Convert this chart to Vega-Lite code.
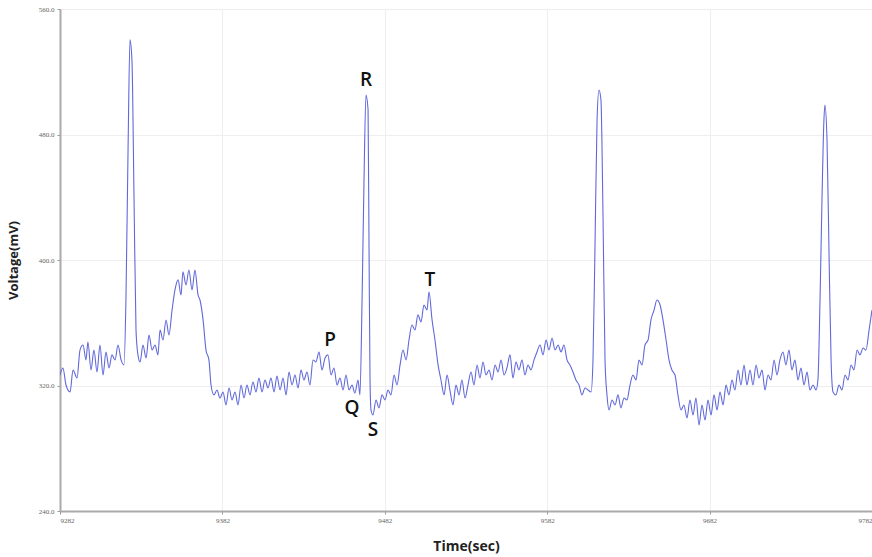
{
  "$schema": "https://vega.github.io/schema/vega-lite/v6.json",
  "width": 812,
  "height": 502,
  "autosize": {"type": "none"},
  "padding": {"left": 60, "top": 9, "right": 0, "bottom": 46},
  "background": "white",
  "config": {"view": {"stroke": null}},
  "datasets": {
    "ecg": [
      {"t":0,"v":326.7},{"t":0.018,"v":331.2},{"t":0.037,"v":320.3},{"t":0.062,"v":315.9},{"t":0.080,"v":329.9},{"t":0.105,"v":324.8},{"t":0.123,"v":342.6},{"t":0.142,"v":345.8},{"t":0.160,"v":336.3},{"t":0.172,"v":347.7},{"t":0.191,"v":329.9},{"t":0.209,"v":342.6},{"t":0.228,"v":328.6},{"t":0.246,"v":345.8},{"t":0.265,"v":326.7},{"t":0.283,"v":341.4},{"t":0.302,"v":331.2},{"t":0.320,"v":339.5},{"t":0.339,"v":336.3},{"t":0.357,"v":345.8},{"t":0.376,"v":336.3},{"t":0.394,"v":333.1},{"t":0.406,"v":374.5},{"t":0.419,"v":470.1},{"t":0.431,"v":540.3},{"t":0.443,"v":527.5},{"t":0.456,"v":438.3},{"t":0.468,"v":355.4},{"t":0.480,"v":339.5},{"t":0.493,"v":335.0},{"t":0.511,"v":345.8},{"t":0.530,"v":337.5},{"t":0.548,"v":352.2},{"t":0.567,"v":342.6},{"t":0.585,"v":345.8},{"t":0.603,"v":339.5},{"t":0.616,"v":355.4},{"t":0.634,"v":349.0},{"t":0.653,"v":361.8},{"t":0.671,"v":352.2},{"t":0.690,"v":368.1},{"t":0.708,"v":380.9},{"t":0.727,"v":387.3},{"t":0.745,"v":377.7},{"t":0.757,"v":392.4},{"t":0.776,"v":384.1},{"t":0.794,"v":393.6},{"t":0.813,"v":380.9},{"t":0.831,"v":393.6},{"t":0.850,"v":377.7},{"t":0.862,"v":374.5},{"t":0.881,"v":361.8},{"t":0.899,"v":342.6},{"t":0.917,"v":336.3},{"t":0.930,"v":320.3},{"t":0.948,"v":314.0},{"t":0.967,"v":317.1},{"t":0.985,"v":312.0},{"t":1.004,"v":315.9},{"t":1.022,"v":307.6},{"t":1.041,"v":318.4},{"t":1.059,"v":310.8},{"t":1.078,"v":315.9},{"t":1.096,"v":307.6},{"t":1.115,"v":320.3},{"t":1.133,"v":312.0},{"t":1.151,"v":320.3},{"t":1.170,"v":314.0},{"t":1.188,"v":322.2},{"t":1.207,"v":315.9},{"t":1.225,"v":324.8},{"t":1.244,"v":315.9},{"t":1.262,"v":323.5},{"t":1.281,"v":318.4},{"t":1.299,"v":324.8},{"t":1.318,"v":315.9},{"t":1.336,"v":326.1},{"t":1.355,"v":317.1},{"t":1.373,"v":324.8},{"t":1.392,"v":314.0},{"t":1.410,"v":328.6},{"t":1.429,"v":320.3},{"t":1.447,"v":326.7},{"t":1.466,"v":318.4},{"t":1.484,"v":329.9},{"t":1.502,"v":323.5},{"t":1.521,"v":328.6},{"t":1.539,"v":320.3},{"t":1.558,"v":336.3},{"t":1.576,"v":335.0},{"t":1.595,"v":341.4},{"t":1.613,"v":329.9},{"t":1.632,"v":337.5},{"t":1.650,"v":339.5},{"t":1.669,"v":326.7},{"t":1.687,"v":331.2},{"t":1.706,"v":320.3},{"t":1.724,"v":324.8},{"t":1.743,"v":317.1},{"t":1.761,"v":326.7},{"t":1.780,"v":317.1},{"t":1.798,"v":320.3},{"t":1.816,"v":315.2},{"t":1.835,"v":323.5},{"t":1.847,"v":314.0},{"t":1.860,"v":374.5},{"t":1.872,"v":451.0},{"t":1.884,"v":505.2},{"t":1.897,"v":495.6},{"t":1.903,"v":406.4},{"t":1.909,"v":323.5},{"t":1.915,"v":304.4},{"t":1.927,"v":301.2},{"t":1.946,"v":310.8},{"t":1.964,"v":305.7},{"t":1.983,"v":314.0},{"t":2.001,"v":310.8},{"t":2.020,"v":317.1},{"t":2.038,"v":314.0},{"t":2.057,"v":326.7},{"t":2.075,"v":320.3},{"t":2.094,"v":333.1},{"t":2.112,"v":342.6},{"t":2.131,"v":336.3},{"t":2.149,"v":349.0},{"t":2.167,"v":358.6},{"t":2.186,"v":355.4},{"t":2.204,"v":365.0},{"t":2.223,"v":360.5},{"t":2.241,"v":371.3},{"t":2.260,"v":368.1},{"t":2.272,"v":379.6},{"t":2.291,"v":361.8},{"t":2.309,"v":349.0},{"t":2.328,"v":333.1},{"t":2.346,"v":323.5},{"t":2.365,"v":314.0},{"t":2.383,"v":326.7},{"t":2.401,"v":317.1},{"t":2.420,"v":307.6},{"t":2.438,"v":320.3},{"t":2.457,"v":314.0},{"t":2.475,"v":323.5},{"t":2.494,"v":312.0},{"t":2.512,"v":320.3},{"t":2.531,"v":328.6},{"t":2.549,"v":320.3},{"t":2.568,"v":333.1},{"t":2.586,"v":324.8},{"t":2.605,"v":335.0},{"t":2.623,"v":326.7},{"t":2.642,"v":329.9},{"t":2.660,"v":323.5},{"t":2.679,"v":333.1},{"t":2.697,"v":328.6},{"t":2.716,"v":336.3},{"t":2.734,"v":326.7},{"t":2.752,"v":331.2},{"t":2.771,"v":339.5},{"t":2.789,"v":324.8},{"t":2.808,"v":335.0},{"t":2.826,"v":329.9},{"t":2.845,"v":336.3},{"t":2.863,"v":326.7},{"t":2.882,"v":333.1},{"t":2.900,"v":329.9},{"t":2.919,"v":336.3},{"t":2.937,"v":341.4},{"t":2.956,"v":345.8},{"t":2.974,"v":339.5},{"t":2.993,"v":349.0},{"t":3.011,"v":342.6},{"t":3.030,"v":350.3},{"t":3.048,"v":342.6},{"t":3.067,"v":345.8},{"t":3.085,"v":341.4},{"t":3.103,"v":345.8},{"t":3.122,"v":336.3},{"t":3.140,"v":333.1},{"t":3.159,"v":328.6},{"t":3.177,"v":323.5},{"t":3.196,"v":320.3},{"t":3.214,"v":314.0},{"t":3.233,"v":318.4},{"t":3.251,"v":317.1},{"t":3.270,"v":315.9},{"t":3.282,"v":336.3},{"t":3.294,"v":406.4},{"t":3.307,"v":489.3},{"t":3.319,"v":508.4},{"t":3.331,"v":502.0},{"t":3.344,"v":425.5},{"t":3.356,"v":336.3},{"t":3.368,"v":314.0},{"t":3.381,"v":304.4},{"t":3.399,"v":310.8},{"t":3.418,"v":307.6},{"t":3.436,"v":314.0},{"t":3.454,"v":305.7},{"t":3.473,"v":312.0},{"t":3.491,"v":310.8},{"t":3.510,"v":320.3},{"t":3.528,"v":326.7},{"t":3.547,"v":323.5},{"t":3.565,"v":336.3},{"t":3.584,"v":333.1},{"t":3.602,"v":345.8},{"t":3.621,"v":349.0},{"t":3.639,"v":361.8},{"t":3.658,"v":368.1},{"t":3.676,"v":374.5},{"t":3.695,"v":371.3},{"t":3.713,"v":361.8},{"t":3.732,"v":349.0},{"t":3.750,"v":336.3},{"t":3.768,"v":329.9},{"t":3.787,"v":326.7},{"t":3.805,"v":314.0},{"t":3.824,"v":304.4},{"t":3.842,"v":307.6},{"t":3.861,"v":299.3},{"t":3.879,"v":310.8},{"t":3.898,"v":301.2},{"t":3.916,"v":312.0},{"t":3.935,"v":294.8},{"t":3.953,"v":307.6},{"t":3.972,"v":298.0},{"t":3.990,"v":310.8},{"t":4.009,"v":301.2},{"t":4.027,"v":314.0},{"t":4.046,"v":304.4},{"t":4.064,"v":315.9},{"t":4.083,"v":307.6},{"t":4.101,"v":320.3},{"t":4.119,"v":314.0},{"t":4.138,"v":323.5},{"t":4.156,"v":317.1},{"t":4.175,"v":329.9},{"t":4.193,"v":320.3},{"t":4.212,"v":333.1},{"t":4.230,"v":320.3},{"t":4.249,"v":329.9},{"t":4.267,"v":320.3},{"t":4.286,"v":333.1},{"t":4.304,"v":324.8},{"t":4.323,"v":329.9},{"t":4.341,"v":317.1},{"t":4.360,"v":326.7},{"t":4.378,"v":323.5},{"t":4.397,"v":336.3},{"t":4.415,"v":326.7},{"t":4.433,"v":336.3},{"t":4.452,"v":341.4},{"t":4.470,"v":333.1},{"t":4.489,"v":342.6},{"t":4.507,"v":329.9},{"t":4.526,"v":336.3},{"t":4.544,"v":323.5},{"t":4.563,"v":331.2},{"t":4.581,"v":320.3},{"t":4.600,"v":328.6},{"t":4.618,"v":317.1},{"t":4.637,"v":320.3},{"t":4.655,"v":317.1},{"t":4.667,"v":323.5},{"t":4.680,"v":374.5},{"t":4.692,"v":438.3},{"t":4.704,"v":489.3},{"t":4.710,"v":498.8},{"t":4.723,"v":476.5},{"t":4.735,"v":406.4},{"t":4.748,"v":336.3},{"t":4.760,"v":315.9},{"t":4.778,"v":314.0},{"t":4.797,"v":320.3},{"t":4.815,"v":317.1},{"t":4.834,"v":326.7},{"t":4.852,"v":323.5},{"t":4.871,"v":333.1},{"t":4.889,"v":329.9},{"t":4.908,"v":342.6},{"t":4.926,"v":339.5},{"t":4.945,"v":343.9},{"t":4.963,"v":342.6},{"t":4.982,"v":355.4},{"t":5.000,"v":368.1}
    ],
    "waves": [
      {"t":1.663,"v":349.0,"label":"P"},
      {"t":1.798,"v":305.7,"label":"Q"},
      {"t":1.884,"v":514.8,"label":"R"},
      {"t":1.927,"v":291.6,"label":"S"},
      {"t":2.278,"v":387.3,"label":"T"}
    ]
  },
  "layer": [
    {
      "data": {"name": "ecg"},
      "mark": {"type": "line", "color": "#6068da", "strokeWidth": 1.1, "interpolate": "monotone", "clip": true},
      "encoding": {
        "x": {
          "field": "t", "type": "quantitative",
          "scale": {"domain": [0, 5], "nice": false, "zero": false},
          "axis": {
            "values": [0, 1, 2, 3, 4, 5],
            "labelExpr": "'9' + (datum.value + 2) + '82'",
            "title": "Time(sec)",
            "titleFont": "Open Sans", "titleFontSize": 14, "titleFontWeight": "bold", "titleColor": "#222",
            "titlePadding": 16,
            "labelFont": "Liberation Serif", "labelFontSize": 7, "labelColor": "#666",
            "labelPadding": 2,
            "domainColor": "#aaaaaa", "domainWidth": 2,
            "tickColor": "#999", "tickSize": 3,
            "grid": true, "gridColor": "#eeeeee", "gridWidth": 1
          }
        },
        "y": {
          "field": "v", "type": "quantitative",
          "scale": {"domain": [240, 560], "nice": false, "zero": false},
          "axis": {
            "values": [240, 320, 400, 480, 560],
            "format": ".1f",
            "title": "Voltage(mV)",
            "titleFont": "Open Sans", "titleFontSize": 13, "titleFontWeight": "bold", "titleColor": "#222",
            "titlePadding": 18,
            "labelFont": "Liberation Serif", "labelFontSize": 7, "labelColor": "#666",
            "labelPadding": 3,
            "domainColor": "#aaaaaa", "domainWidth": 2,
            "tickColor": "#999", "tickSize": 3,
            "grid": true, "gridColor": "#eeeeee", "gridWidth": 1
          }
        }
      }
    },
    {
      "data": {"name": "waves"},
      "mark": {"type": "text", "font": "Open Sans", "fontSize": 19, "fontWeight": 600, "color": "#111", "align": "center", "baseline": "middle"},
      "encoding": {
        "x": {"field": "t", "type": "quantitative"},
        "y": {"field": "v", "type": "quantitative"},
        "text": {"field": "label"}
      }
    }
  ]
}
